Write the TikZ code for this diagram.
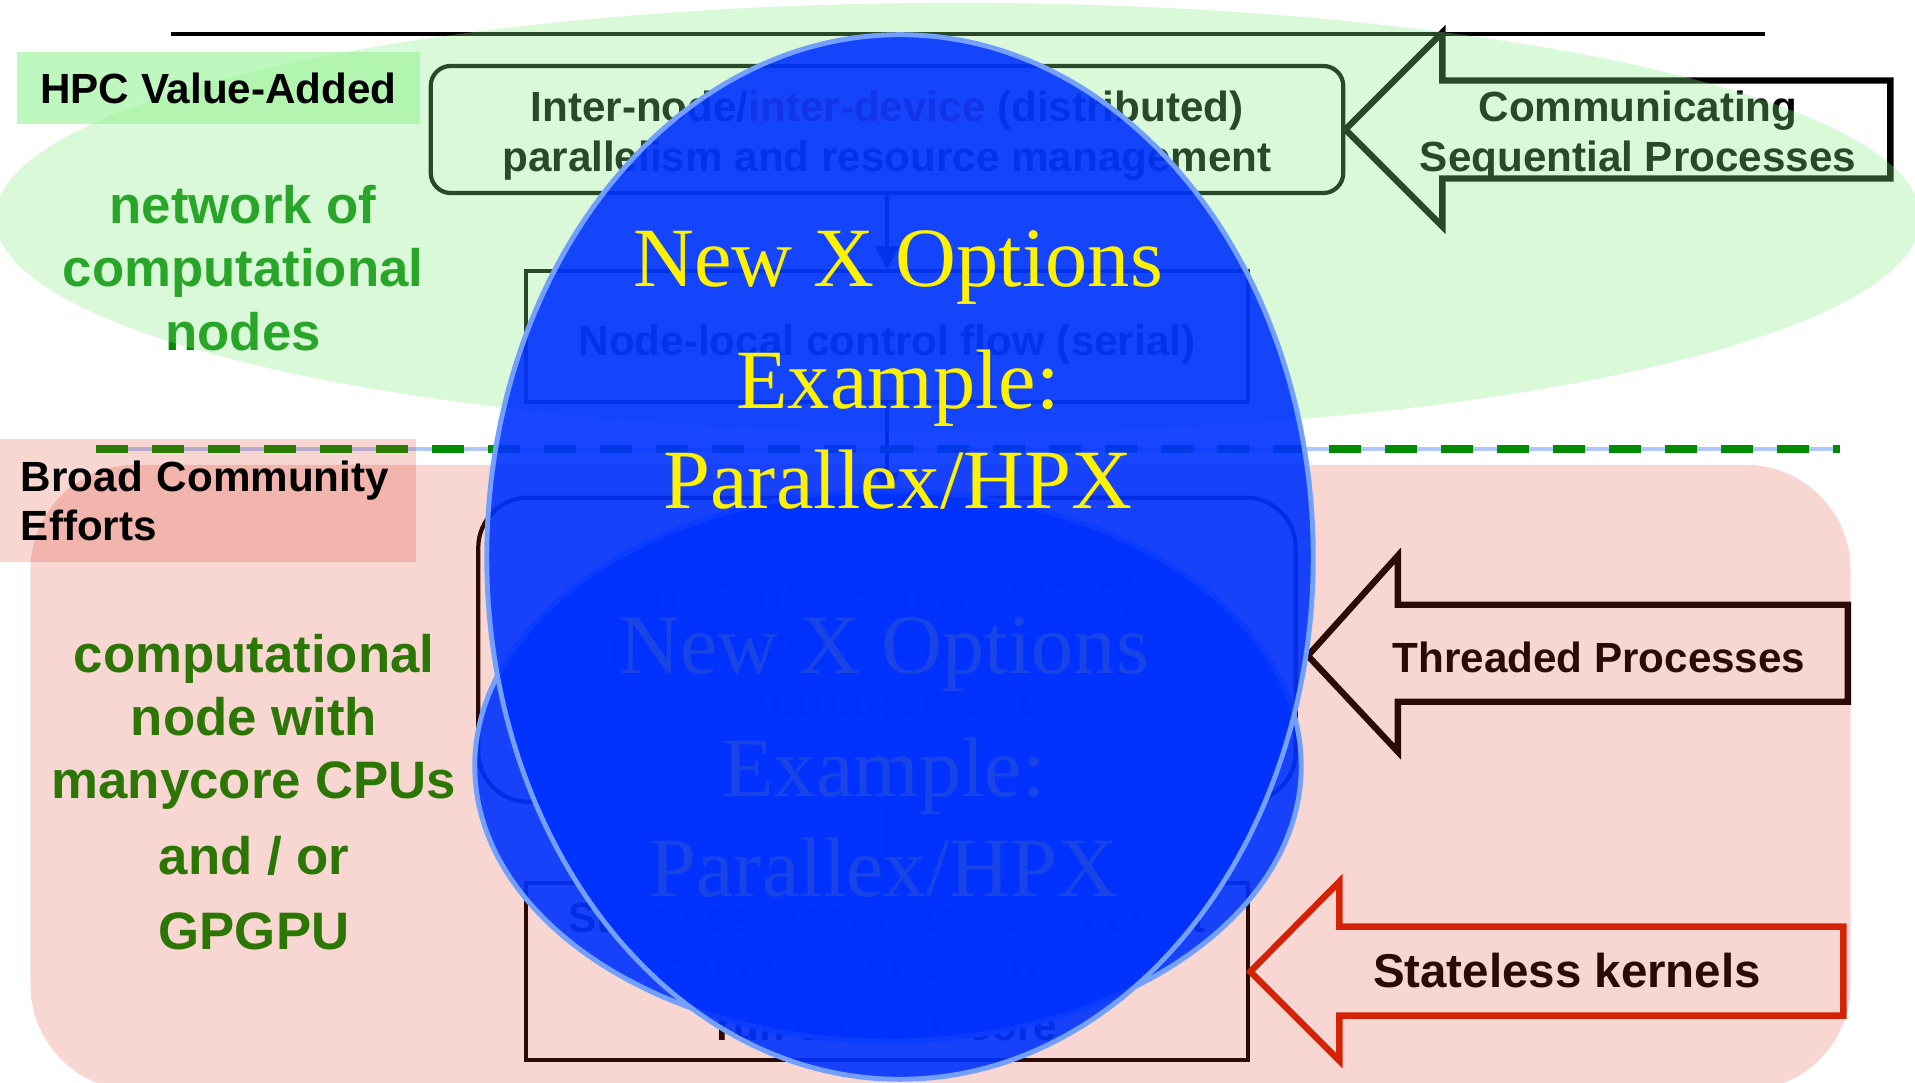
\documentclass[tikz,border=0pt]{standalone}
\usepackage{fontspec}
\setmainfont{Liberation Serif}
\setsansfont{Liberation Sans}
\usetikzlibrary{positioning,shapes.geometric,arrows.meta}

\definecolor{hpcgreen}{RGB}{153,244,153}
\definecolor{ovalgreen}{RGB}{135,238,135}
\definecolor{tintred}{RGB}{220,50,30}
\definecolor{notegreen}{RGB}{0,135,0}
\definecolor{dashgreen}{RGB}{0,140,0}
\definecolor{guideblue}{RGB}{176,200,248}
\definecolor{ovalblue}{RGB}{0,50,255}
\definecolor{rimblue}{RGB}{115,160,255}
\definecolor{kernelred}{RGB}{210,31,2}
\definecolor{devred}{RGB}{220,0,0}

\begin{document}
\begin{tikzpicture}[
    x=0.01cm, y=-0.01cm,
    every node/.style={font=\sffamily\bfseries\fontsize{12}{14.2}\selectfont, inner sep=0pt},
    flowbox/.style={rectangle, draw=black, line width=1.2pt, align=center},
    redtint/.style={rectangle, fill=tintred, fill opacity=0.2, text opacity=1},
    greentint/.style={ellipse, fill=ovalgreen, fill opacity=0.31},
    blueoval/.style={ellipse, fill=ovalblue, fill opacity=0.9, draw=rimblue, line width=1.4pt, minimum width=8.26cm},
    ovaltext/.style={font=\rmfamily\mdseries\fontsize{24}{28.45}\selectfont, text=yellow, align=center},
    greennote/.style={font=\sffamily\bfseries\fontsize{15}{18}\selectfont, text=notegreen, align=center},
    blockarrow/.style={line width=1.8pt, line join=miter},
    flowarrow/.style={-{Triangle[length=0.23cm,width=0.24cm]}, line width=1pt},
    divider/.style={draw=dashgreen, line width=2.3pt, dash pattern=on 0.32cm off 0.24cm},
]
\fill[white] (0,0) rectangle (1915,1083);
\useasboundingbox (0,0) rectangle (1915,1083);

% top rule
\coordinate (rule-l) at (171,34);
\coordinate (rule-r) at (1765,34);
\draw[line width=1.3pt] (rule-l) -- (rule-r);

% layer boxes
\node[flowbox, rounded corners=0.2cm, minimum width=9.12cm, minimum height=1.27cm] (inter) at (887,129.5)
    {\rule{0pt}{0.43cm}Inter-node/\textcolor{devred}{inter-device} (distributed)\\parallelism and resource management};
\node[flowbox, below=0.74cm of inter, minimum width=7.22cm, minimum height=1.31cm] (nodelocal)
    {\rule{0pt}{0.47cm}Node-local control flow (serial)};
\node[flowbox, below=0.91cm of nodelocal, rounded corners=0.5cm, minimum width=8.17cm, minimum height=3.04cm,
    font=\sffamily\bfseries\fontsize{13.5}{15.1}\selectfont] (intra)
    {Intra-node (manycore)\\parallelism and resource\\management};
\node[flowbox, below=0.77cm of intra, minimum width=7.22cm, minimum height=1.77cm] (kernels)
    {Stateless, vectorizable, efficient\\computational kernels\\[0.08cm]run on each core};
\draw[flowarrow] (inter) -- (nodelocal);
\draw[flowarrow] (nodelocal) -- (intra);
\draw[flowarrow] (intra) -- (kernels);

% block arrows
\draw[blockarrow] (inter.east) -- ++(97,-97) -- ++(0,48) -- ++(448,0) -- ++(0,98) -- ++(-448,0) -- ++(0,48) -- cycle;
\draw[blockarrow] ([xshift=0.1cm, yshift=-0.06cm]intra.east) -- ++(90,-100) -- ++(0,49) -- ++(450,0) -- ++(0,97) -- ++(-450,0) -- ++(0,50) -- cycle;
\draw[blockarrow, draw=kernelred] (kernels.east) -- ++(89,-90) -- ++(0,45) -- ++(504,0) -- ++(0,89) -- ++(-504,0) -- ++(0,45) -- cycle;
\node[align=center] (csp) at (1638,136) {Communicating\\Sequential Processes};
\node (threads) at (1599,657) {Threaded Processes};
\node[font=\sffamily\bfseries\fontsize{13.5}{16}\selectfont] (stateless) at (1567,971) {Stateless kernels};

% side notes
\node[greennote] (network) at (243,268) {network of\\computational\\nodes};
\node[greennote] (manycore) at (254,792) {computational\\node with\\manycore CPUs\\[0.12cm]and / or\\[0.12cm]GPGPU};

% divider
\coordinate (split-l) at (96,449);
\coordinate (split-r) at (1840,449);
\draw[guideblue, line width=0.9pt] (split-l) -- (split-r);
\draw[divider] (split-l) -- (split-r);

% tinted zones
\node[greentint, minimum width=19.24cm, minimum height=4.30cm] (hpc-zone) at (958,218) {};
\node[redtint, rounded corners=1.05cm, minimum width=18.19cm, minimum height=6.25cm] (community) at (940.5,777.5) {};
\node[rectangle, fill=hpcgreen, fill opacity=0.62, text opacity=1, minimum width=4.03cm, minimum height=0.72cm] (hpc) at (218.5,88) {HPC Value-Added};
\node[redtint, minimum width=4.16cm, minimum height=1.23cm, text width=3.74cm, align=left,
    font=\sffamily\bfseries\fontsize{12}{13.9}\selectfont] (broad) at (208,500.5) {Broad Community\\Efforts};

% overlays
\node[blueoval, minimum height=5.50cm] (lowoval) at (888,766) {};
\node[ovaltext] (lowtext) at (884,757.5) {New X Options\\[0.22cm]Example:\\Parallex/HPX};
\node[blueoval, minimum height=10.44cm] (bigoval) at (900,557) {};
\node[ovaltext] (bigtext) at (898,370) {New X Options\\[0.22cm]Example:\\Parallex/HPX};
\end{tikzpicture}
\end{document}
